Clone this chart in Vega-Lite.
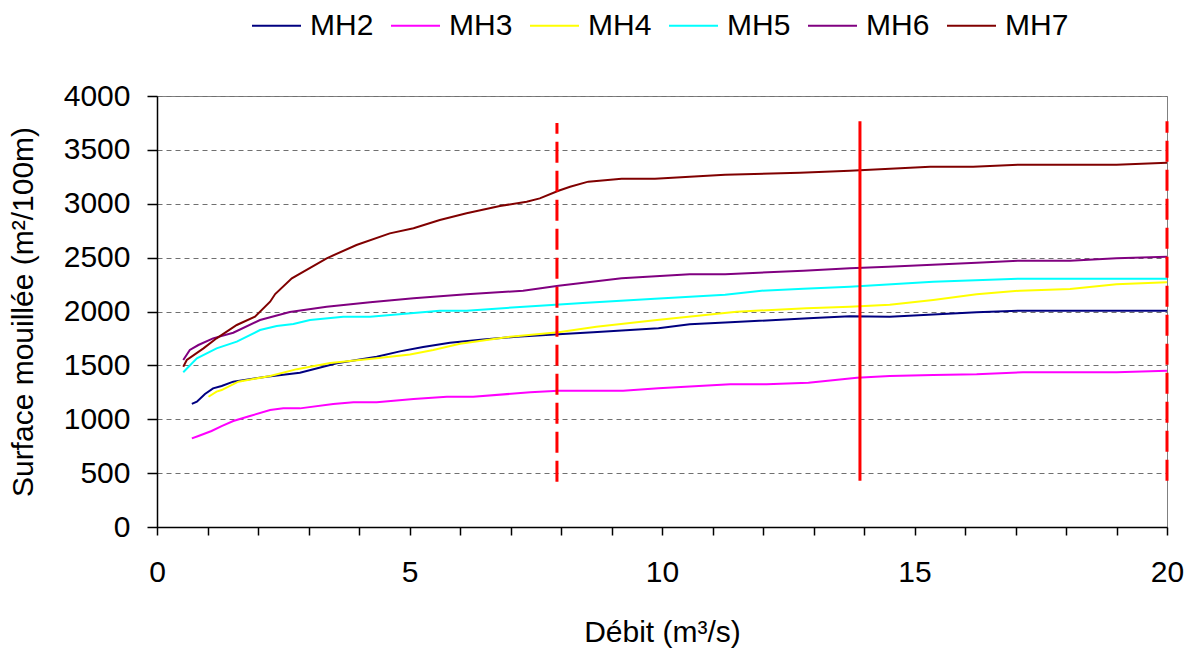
{
  "$schema": "https://vega.github.io/schema/vega-lite/v6.json",
  "width": 1010,
  "height": 431,
  "autosize": {"type": "none"},
  "padding": {"left": 157, "top": 96, "right": 25, "bottom": 121},
  "background": "white",
  "config": {
    "font": "Liberation Sans",
    "view": {"stroke": "#808080", "strokeWidth": 1},
    "axis": {
      "labelFont": "Liberation Sans",
      "titleFont": "Liberation Sans",
      "labelFontSize": 30,
      "titleFontSize": 30,
      "titleFontWeight": "normal",
      "labelColor": "black",
      "titleColor": "black",
      "domainColor": "black",
      "tickColor": "black",
      "domainWidth": 1.5,
      "tickWidth": 1.5
    }
  },
  "datasets": {
    "curves": [
      {"series": "MH2", "q": 0.69, "s": 1142}, {"series": "MH2", "q": 0.79, "s": 1163}, {"series": "MH2", "q": 0.95, "s": 1235}, {"series": "MH2", "q": 1.11, "s": 1287}, {"series": "MH2", "q": 1.28, "s": 1309}, {"series": "MH2", "q": 1.51, "s": 1349}, {"series": "MH2", "q": 2.17, "s": 1395}, {"series": "MH2", "q": 2.83, "s": 1432}, {"series": "MH2", "q": 3.56, "s": 1519}, {"series": "MH2", "q": 4.35, "s": 1581}, {"series": "MH2", "q": 4.81, "s": 1630}, {"series": "MH2", "q": 5.27, "s": 1670}, {"series": "MH2", "q": 5.8, "s": 1710}, {"series": "MH2", "q": 6.46, "s": 1740}, {"series": "MH2", "q": 7.12, "s": 1766}, {"series": "MH2", "q": 7.95, "s": 1788}, {"series": "MH2", "q": 8.64, "s": 1807}, {"series": "MH2", "q": 9.93, "s": 1844}, {"series": "MH2", "q": 10.55, "s": 1881}, {"series": "MH2", "q": 11.35, "s": 1900}, {"series": "MH2", "q": 12.9, "s": 1937}, {"series": "MH2", "q": 13.72, "s": 1955}, {"series": "MH2", "q": 14.51, "s": 1952}, {"series": "MH2", "q": 16.23, "s": 1992}, {"series": "MH2", "q": 17.09, "s": 2008}, {"series": "MH2", "q": 18.08, "s": 2008}, {"series": "MH2", "q": 20, "s": 2008},
      {"series": "MH3", "q": 0.69, "s": 823}, {"series": "MH3", "q": 0.82, "s": 845}, {"series": "MH3", "q": 1.08, "s": 891}, {"series": "MH3", "q": 1.28, "s": 937}, {"series": "MH3", "q": 1.51, "s": 984}, {"series": "MH3", "q": 1.84, "s": 1030}, {"series": "MH3", "q": 2.24, "s": 1086}, {"series": "MH3", "q": 2.5, "s": 1101}, {"series": "MH3", "q": 2.83, "s": 1101}, {"series": "MH3", "q": 3.49, "s": 1142}, {"series": "MH3", "q": 3.89, "s": 1157}, {"series": "MH3", "q": 4.35, "s": 1157}, {"series": "MH3", "q": 5.08, "s": 1188}, {"series": "MH3", "q": 5.74, "s": 1209}, {"series": "MH3", "q": 6.26, "s": 1209}, {"series": "MH3", "q": 7.39, "s": 1250}, {"series": "MH3", "q": 7.95, "s": 1265}, {"series": "MH3", "q": 9.23, "s": 1265}, {"series": "MH3", "q": 9.93, "s": 1287}, {"series": "MH3", "q": 11.35, "s": 1324}, {"series": "MH3", "q": 12.07, "s": 1324}, {"series": "MH3", "q": 12.9, "s": 1339}, {"series": "MH3", "q": 13.86, "s": 1386}, {"series": "MH3", "q": 14.51, "s": 1401}, {"series": "MH3", "q": 15.37, "s": 1410}, {"series": "MH3", "q": 16.23, "s": 1417}, {"series": "MH3", "q": 17.15, "s": 1436}, {"series": "MH3", "q": 18.08, "s": 1436}, {"series": "MH3", "q": 19.0, "s": 1436}, {"series": "MH3", "q": 20, "s": 1451},
      {"series": "MH4", "q": 1.02, "s": 1209}, {"series": "MH4", "q": 1.18, "s": 1256}, {"series": "MH4", "q": 1.28, "s": 1271}, {"series": "MH4", "q": 1.61, "s": 1349}, {"series": "MH4", "q": 2.24, "s": 1401}, {"series": "MH4", "q": 2.77, "s": 1465}, {"series": "MH4", "q": 3.43, "s": 1522}, {"series": "MH4", "q": 4.35, "s": 1566}, {"series": "MH4", "q": 5.01, "s": 1600}, {"series": "MH4", "q": 5.47, "s": 1643}, {"series": "MH4", "q": 6.0, "s": 1700}, {"series": "MH4", "q": 6.99, "s": 1766}, {"series": "MH4", "q": 7.95, "s": 1807}, {"series": "MH4", "q": 8.7, "s": 1859}, {"series": "MH4", "q": 9.9, "s": 1921}, {"series": "MH4", "q": 11.48, "s": 1998}, {"series": "MH4", "q": 12.86, "s": 2030}, {"series": "MH4", "q": 13.72, "s": 2045}, {"series": "MH4", "q": 14.51, "s": 2063}, {"series": "MH4", "q": 15.37, "s": 2107}, {"series": "MH4", "q": 16.23, "s": 2160}, {"series": "MH4", "q": 17.09, "s": 2193}, {"series": "MH4", "q": 18.08, "s": 2209}, {"series": "MH4", "q": 19.0, "s": 2252}, {"series": "MH4", "q": 20, "s": 2271},
      {"series": "MH5", "q": 0.52, "s": 1436}, {"series": "MH5", "q": 0.79, "s": 1566}, {"series": "MH5", "q": 1.18, "s": 1658}, {"series": "MH5", "q": 1.58, "s": 1720}, {"series": "MH5", "q": 2.04, "s": 1828}, {"series": "MH5", "q": 2.37, "s": 1865}, {"series": "MH5", "q": 2.7, "s": 1884}, {"series": "MH5", "q": 3.03, "s": 1921}, {"series": "MH5", "q": 3.69, "s": 1952}, {"series": "MH5", "q": 4.22, "s": 1952}, {"series": "MH5", "q": 5.6, "s": 2008}, {"series": "MH5", "q": 6.13, "s": 2008}, {"series": "MH5", "q": 7.58, "s": 2054}, {"series": "MH5", "q": 8.51, "s": 2082}, {"series": "MH5", "q": 9.86, "s": 2119}, {"series": "MH5", "q": 11.25, "s": 2156}, {"series": "MH5", "q": 11.97, "s": 2193}, {"series": "MH5", "q": 12.8, "s": 2212}, {"series": "MH5", "q": 13.72, "s": 2230}, {"series": "MH5", "q": 15.37, "s": 2277}, {"series": "MH5", "q": 17.09, "s": 2305}, {"series": "MH5", "q": 18.08, "s": 2305}, {"series": "MH5", "q": 20, "s": 2305},
      {"series": "MH6", "q": 0.52, "s": 1550}, {"series": "MH6", "q": 0.65, "s": 1643}, {"series": "MH6", "q": 0.82, "s": 1689}, {"series": "MH6", "q": 1.11, "s": 1751}, {"series": "MH6", "q": 1.51, "s": 1803}, {"series": "MH6", "q": 2.04, "s": 1921}, {"series": "MH6", "q": 2.63, "s": 1995}, {"series": "MH6", "q": 3.36, "s": 2045}, {"series": "MH6", "q": 4.22, "s": 2085}, {"series": "MH6", "q": 5.08, "s": 2122}, {"series": "MH6", "q": 6.13, "s": 2160}, {"series": "MH6", "q": 7.25, "s": 2193}, {"series": "MH6", "q": 7.95, "s": 2240}, {"series": "MH6", "q": 9.2, "s": 2308}, {"series": "MH6", "q": 10.55, "s": 2345}, {"series": "MH6", "q": 11.25, "s": 2345}, {"series": "MH6", "q": 12.8, "s": 2379}, {"series": "MH6", "q": 13.72, "s": 2401}, {"series": "MH6", "q": 14.48, "s": 2416}, {"series": "MH6", "q": 16.23, "s": 2453}, {"series": "MH6", "q": 17.09, "s": 2472}, {"series": "MH6", "q": 18.08, "s": 2472}, {"series": "MH6", "q": 19.0, "s": 2494}, {"series": "MH6", "q": 20, "s": 2509},
      {"series": "MH7", "q": 0.52, "s": 1488}, {"series": "MH7", "q": 0.59, "s": 1550}, {"series": "MH7", "q": 0.92, "s": 1658}, {"series": "MH7", "q": 1.18, "s": 1751}, {"series": "MH7", "q": 1.58, "s": 1875}, {"series": "MH7", "q": 1.94, "s": 1952}, {"series": "MH7", "q": 2.24, "s": 2091}, {"series": "MH7", "q": 2.34, "s": 2162}, {"series": "MH7", "q": 2.67, "s": 2308}, {"series": "MH7", "q": 3.36, "s": 2494}, {"series": "MH7", "q": 3.95, "s": 2617}, {"series": "MH7", "q": 4.61, "s": 2725}, {"series": "MH7", "q": 5.08, "s": 2772}, {"series": "MH7", "q": 5.6, "s": 2849}, {"series": "MH7", "q": 6.13, "s": 2911}, {"series": "MH7", "q": 6.79, "s": 2979}, {"series": "MH7", "q": 7.32, "s": 3019}, {"series": "MH7", "q": 7.58, "s": 3050}, {"series": "MH7", "q": 7.95, "s": 3121}, {"series": "MH7", "q": 8.18, "s": 3158}, {"series": "MH7", "q": 8.54, "s": 3205}, {"series": "MH7", "q": 9.2, "s": 3233}, {"series": "MH7", "q": 9.86, "s": 3233}, {"series": "MH7", "q": 10.55, "s": 3251}, {"series": "MH7", "q": 11.25, "s": 3270}, {"series": "MH7", "q": 12.73, "s": 3288}, {"series": "MH7", "q": 13.72, "s": 3307}, {"series": "MH7", "q": 15.31, "s": 3344}, {"series": "MH7", "q": 16.16, "s": 3344}, {"series": "MH7", "q": 17.09, "s": 3363}, {"series": "MH7", "q": 18.08, "s": 3363}, {"series": "MH7", "q": 19.0, "s": 3363}, {"series": "MH7", "q": 20, "s": 3381}
    ],
    "dashedRules": [
      {"q": 7.92, "lo": 420, "hi": 3750},
      {"q": 20, "lo": 430, "hi": 3765}
    ],
    "solidRules": [
      {"q": 13.92, "lo": 430, "hi": 3765}
    ]
  },
  "layer": [
    {
      "data": {"name": "curves"},
      "mark": {"type": "line", "strokeWidth": 2, "clip": false},
      "encoding": {
        "x": {
          "field": "q",
          "type": "quantitative",
          "scale": {"domain": [0, 20], "nice": false, "zero": true},
          "axis": {
            "title": "Débit (m³/s)",
            "values": [0, 1, 2, 3, 4, 5, 6, 7, 8, 9, 10, 11, 12, 13, 14, 15, 16, 17, 18, 19, 20],
            "labelExpr": "datum.value % 5 === 0 ? datum.label : ''",
            "grid": false,
            "tickSize": 8,
            "labelPadding": 22,
            "labelFlush": false,
            "labelOverlap": false,
            "titlePadding": 30,
            "encode": {
              "ticks": {
                "update": {
                  "y": {"value": -10},
                  "y2": {"signal": "datum.value % 5 === 0 ? 8 : 0"}
                }
              }
            }
          }
        },
        "y": {
          "field": "s",
          "type": "quantitative",
          "scale": {"domain": [0, 4000], "nice": false},
          "axis": {
            "title": "Surface mouillée (m²/100m)",
            "values": [0, 500, 1000, 1500, 2000, 2500, 3000, 3500, 4000],
            "format": "d",
            "grid": true,
            "gridDash": [5, 4],
            "gridColor": "#707070",
            "gridWidth": 1,
            "tickSize": 10,
            "labelPadding": 17,
            "titlePadding": 25
          }
        },
        "color": {
          "field": "series",
          "type": "nominal",
          "scale": {
            "domain": ["MH2", "MH3", "MH4", "MH5", "MH6", "MH7"],
            "range": ["#000080", "#FF00FF", "#FFFF00", "#00FFFF", "#800080", "#800000"]
          },
          "legend": {
            "title": null,
            "orient": "none",
            "legendX": 94,
            "legendY": -96,
            "direction": "horizontal",
            "symbolType": "stroke",
            "symbolSize": 2401,
            "symbolStrokeWidth": 2,
            "labelFontSize": 30,
            "labelFont": "Liberation Sans",
            "labelColor": "black",
            "labelOffset": 8,
            "columnPadding": 13,
            "padding": 0
          }
        }
      }
    },
    {
      "data": {"name": "dashedRules"},
      "mark": {"type": "rule", "color": "#FF0000", "strokeWidth": 3, "strokeDash": [21, 8]},
      "encoding": {
        "x": {"field": "q", "type": "quantitative"},
        "y": {"field": "lo", "type": "quantitative"},
        "y2": {"field": "hi"}
      }
    },
    {
      "data": {"name": "solidRules"},
      "mark": {"type": "rule", "color": "#FF0000", "strokeWidth": 3},
      "encoding": {
        "x": {"field": "q", "type": "quantitative"},
        "y": {"field": "lo", "type": "quantitative"},
        "y2": {"field": "hi"}
      }
    }
  ]
}
